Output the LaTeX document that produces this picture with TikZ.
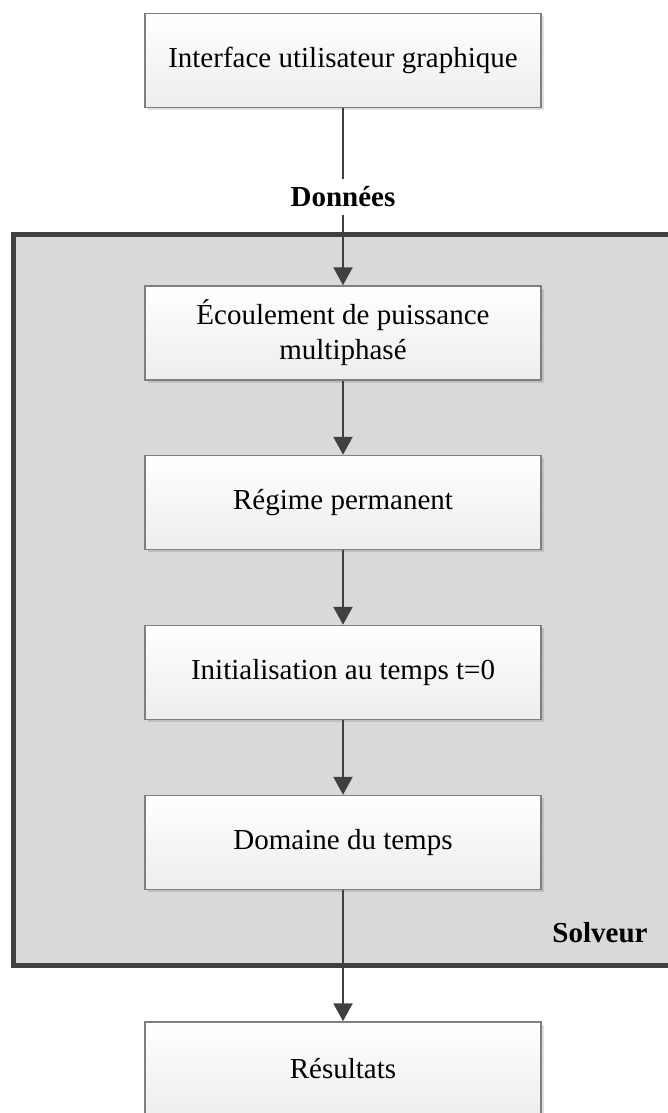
\documentclass[tikz,border=0pt]{standalone}
\usepackage{fontspec}
\setmainfont{Liberation Serif}
\usetikzlibrary{arrows.meta,shadows}
\definecolor{boxborder}{HTML}{7F7F7F}
\definecolor{linecol}{HTML}{404040}
\definecolor{solverfill}{HTML}{D9D9D9}
\begin{document}
\begin{tikzpicture}[x=1pt,y=-1pt,
  stepbox/.style={draw=boxborder, line width=1.5pt, top color=white, bottom color=black!7,
    minimum width=396pt, minimum height=94pt, inner sep=0pt, align=center,
    font=\fontsize{29}{35}\selectfont,
    drop shadow={shadow xshift=2.5pt, shadow yshift=-2.5pt, opacity=0.12, fill=black}},
  flow/.style={draw=linecol, line width=2.5pt},
  arrow/.style={flow, -{Triangle[width=19pt,length=18pt]}},
  tag/.style={font=\fontsize{29}{35}\selectfont\bfseries, inner sep=0pt},
  solverframe/.style={draw=linecol, line width=5pt, fill=solverfill}]
  \useasboundingbox (0,0) rectangle (668,1113);
  \clip (0,0) rectangle (668,1113);

  % solver container
  \draw[solverframe] (13.5,234) rectangle (700,965);
  \node[tag] (solveur) at (600,933) {Solveur};

  % processing chain
  \node[stepbox] (gui)  at (343,60.5)  {Interface utilisateur graphique};
  \node[stepbox] (flux) at (343,333)   {Écoulement de puissance\\multiphasé};
  \node[stepbox] (perm) at (343,502.5) {Régime permanent};
  \node[stepbox] (init) at (343,672.5) {Initialisation au temps t=0};
  \node[stepbox] (temps) at (343,842.5) {Domaine du temps};
  \node[stepbox] (res)  at (343,1069)  {Résultats};

  \node[tag, inner sep=8pt] (donnees) at (343,197) {Données};

  % connectors
  \draw[flow] (gui.south) -- (donnees.north);
  \draw[arrow] (donnees.south) -- (flux.north);
  \draw[arrow] (flux.south) -- (perm.north);
  \draw[arrow] (perm.south) -- (init.north);
  \draw[arrow] (init.south) -- (temps.north);
  \draw[arrow] (temps.south) -- (res.north);
\end{tikzpicture}
\end{document}
